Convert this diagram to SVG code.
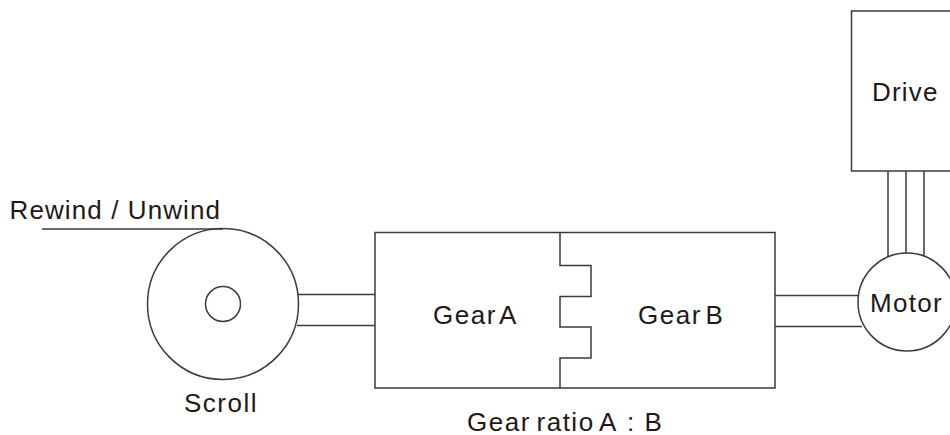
<svg xmlns="http://www.w3.org/2000/svg" width="950" height="435" viewBox="0 0 950 435">
<style>
.s{fill:none;stroke:#3e3a39;stroke-width:1.5}
.w{fill:#fff;stroke:#3e3a39;stroke-width:1.5}
text{font-family:"Liberation Sans",Arial,sans-serif;font-size:26px;fill:#231815;letter-spacing:1.5px}
</style>
<rect width="950" height="435" fill="#fff"/>
<g id="connectors">
<path class="s" d="M42 229H223"/>
<path class="s" d="M298 294.500H375M297 325.500H375"/>
<path class="s" d="M775 295.500H858M775 326.500H862"/>
<path class="s" d="M888 171V257M906 171V254M924 171V257"/>
</g>
<g id="rewind-label"><text x="9.500" y="218.500" style="letter-spacing:1.1px">Rewind / Unwind</text></g>
<g id="scroll">
<circle class="s" cx="223" cy="304" r="75.500"/>
<circle class="s" cx="223" cy="304" r="17.500"/>
<text x="184" y="412">Scroll</text>
</g>
<g id="gear-box">
<rect class="s" x="375" y="232.500" width="400" height="155.500"/>
<path class="s" d="M560 232.500V265.500H591V296.500H560V327H591V358H560V388"/>
<text x="433" y="324" word-spacing="-5">Gear A</text>
<text x="638" y="324" word-spacing="-5">Gear B</text>
<text x="467" y="430.500" word-spacing="-3">Gear ratio A</text>
<text x="627" y="430.500">: B</text>
</g>
<g id="motor">
<circle class="w" cx="907" cy="302" r="49"/>
<text x="870" y="312" style="letter-spacing:1.3px">Motor</text>
</g>
<g id="drive">
<rect class="s" x="851.500" y="11" width="110" height="160"/>
<text x="872" y="101" style="letter-spacing:1.2px">Drive</text>
</g>
</svg>
